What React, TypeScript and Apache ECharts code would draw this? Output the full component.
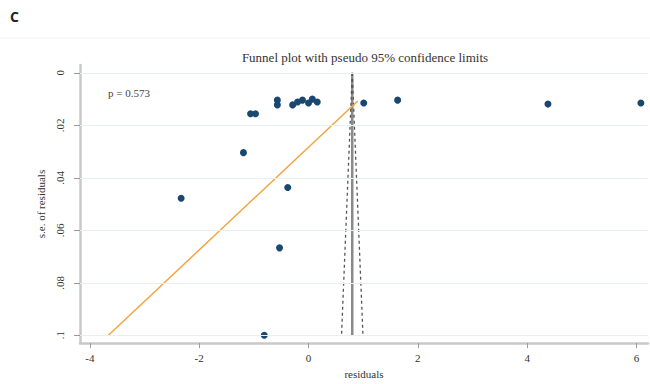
import React, { useEffect, useRef } from "react";
import * as echarts from "echarts";

// Study residuals and their standard errors
const residuals = [-1.06, -0.97, -0.57, -0.57, -0.29, -0.2, -0.11, 0.0, 0.07, 0.16, 1.01, 1.63, 4.38, 6.08, -1.19, -2.33, -0.38, -0.53, -0.81];
const seResiduals = [0.0156, 0.0156, 0.0104, 0.0122, 0.0122, 0.0111, 0.0104, 0.0115, 0.01, 0.0111, 0.0115, 0.0104, 0.0119, 0.0115, 0.0304, 0.0478, 0.0437, 0.0667, 0.1];

// Pooled estimate and pseudo 95% limits (x, se)
const pooledLine = [[0.8, 0], [0.8, 0.1]];
const lowerLimit = [[0.8, 0], [0.604, 0.1]];
const upperLimit = [[0.8, 0], [0.996, 0.1]];

// Regression line (x, se)
const eggerLine = [[-3.66, 0.1], [0.9, 0.0107]];

const xTicks = [-4, -2, 0, 2, 4, 6];
const yTicks = [0, 0.02, 0.04, 0.06, 0.08, 0.1];

const titleText = "Funnel plot with pseudo 95% confidence limits";
const pText = "p = 0.573";
const panelLabel = "C";

const serif = "'Liberation Serif', 'DejaVu Serif', serif";

export default function App() {
  const ref = useRef<HTMLDivElement>(null);
  useEffect(() => {
    if (!ref.current) return;
    const chart = echarts.init(ref.current, undefined, { renderer: "svg" });
    const fmtY = (v: number) => (v === 0 ? "0" : String(+v.toFixed(3)).replace(/^0/, ""));
    chart.setOption({
      animation: false,
      backgroundColor: "#ffffff",
      grid: { left: 80, right: 2, top: 65, bottom: 33 },
      xAxis: {
        type: "value",
        min: -4.18,
        max: 6.21,
        name: "residuals",
        nameLocation: "middle",
        nameGap: 24,
        nameTextStyle: { fontFamily: serif, fontSize: 11, color: "#333" },
        axisLine: { show: true, onZero: false, lineStyle: { color: "#c8c8c8", width: 2.5 } },
        axisTick: { show: true, length: 5, customValues: xTicks, lineStyle: { color: "#999" } },
        axisLabel: { customValues: xTicks, margin: 9, fontFamily: serif, fontSize: 11, color: "#333" },
        splitLine: { show: false },
      },
      yAxis: {
        type: "value",
        inverse: true,
        min: -0.003,
        max: 0.103,
        name: "s.e. of residuals",
        nameLocation: "middle",
        nameGap: 31,
        nameRotate: 90,
        nameTextStyle: { fontFamily: serif, fontSize: 11, color: "#333" },
        axisLine: { show: true, onZero: false, lineStyle: { color: "#c8c8c8", width: 2.5 } },
        axisTick: { show: true, length: 6, customValues: yTicks, lineStyle: { color: "#999" } },
        axisLabel: {
          customValues: yTicks,
          rotate: 90,
          margin: 15,
          fontFamily: serif,
          fontSize: 11,
          color: "#333",
          formatter: fmtY,
        },
        splitLine: { show: false },
      },
      graphic: [
        { type: "text", left: 10, top: 9, style: { text: panelLabel, font: "bold 14px 'Open Sans', sans-serif", fill: "#222" } },
        { type: "line", shape: { x1: 0, y1: 38, x2: 650, y2: 38 }, style: { stroke: "#f2f2f2", lineWidth: 1 } },
        {
          type: "text",
          x: 365,
          y: 57,
          style: { text: titleText, font: `13px ${serif}`, fill: "#333", textAlign: "center", textVerticalAlign: "middle" },
        },
        {
          type: "text",
          x: 108,
          y: 93,
          style: { text: pText, font: `11px ${serif}`, fill: "#444", textAlign: "left", textVerticalAlign: "middle" },
        },
      ],
      series: [
        {
          type: "line",
          data: [],
          silent: true,
          markLine: {
            silent: true,
            symbol: "none",
            label: { show: false },
            lineStyle: { color: "#e8eff1", width: 1, type: "solid" },
            data: yTicks.map((v) => ({ yAxis: v })),
          },
        },
        {
          type: "line",
          data: eggerLine,
          symbol: "none",
          lineStyle: { color: "#f2a541", width: 1.5 },
          z: 3,
        },
        {
          type: "line",
          data: pooledLine,
          symbol: "none",
          lineStyle: { color: "#8a8a8a", width: 2.5 },
          z: 2,
        },
        {
          type: "line",
          data: lowerLimit,
          symbol: "none",
          lineStyle: { color: "#555", width: 1.3, type: [3, 3] },
          z: 2,
        },
        {
          type: "line",
          data: upperLimit,
          symbol: "none",
          lineStyle: { color: "#555", width: 1.3, type: [3, 3] },
          z: 2,
        },
        {
          type: "scatter",
          data: residuals.map((r, i) => [r, seResiduals[i]]),
          symbol: "circle",
          symbolSize: 7,
          itemStyle: { color: "#1a476f", opacity: 1 },
          z: 4,
        },
      ],
    });
    return () => chart.dispose();
  }, []);
  return <div ref={ref} style={{ position: "absolute", left: 0, top: 0, width: 650, height: 384 }} />;
}
